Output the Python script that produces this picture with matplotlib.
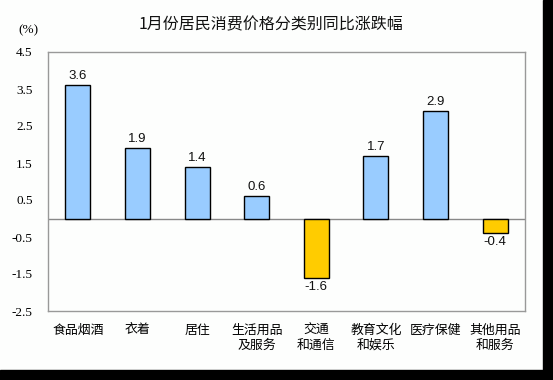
import matplotlib.pyplot as plt
from matplotlib.patches import Rectangle

categories = ["食品烟酒", "衣着", "居住", "生活用品\n及服务", "交通\n和通信",
              "教育文化\n和娱乐", "医疗保健", "其他用品\n和服务"]
values = [3.6, 1.9, 1.4, 0.6, -1.6, 1.7, 2.9, -0.4]
yticks = [-2.5, -1.5, -0.5, 0.5, 1.5, 2.5, 3.5, 4.5]

cjk = ["Noto Sans CJK SC", "DejaVu Sans"]

fig = plt.figure(figsize=(5.53, 3.80), dpi=100, facecolor="#fdfefd")
ax = fig.add_axes([48 / 553, 1 - 311 / 380, 477 / 553, 259 / 380])
ax.set_facecolor("#fdfefd")

x = list(range(len(values)))
colors = ["#99ccff" if v >= 0 else "#ffcc00" for v in values]
ax.bar(x, values, width=0.42, color=colors, edgecolor="black", linewidth=1, zorder=3)

for xi, v in zip(x, values):
    if v >= 0:
        ax.text(xi, v + 0.08, f"{v}", ha="center", va="bottom", fontsize=9.5,
                family="Liberation Sans", color="#111111")
    else:
        ax.text(xi, v - 0.08, f"{v}", ha="center", va="top", fontsize=9.5,
                family="Liberation Sans", color="#111111")

ax.axhline(0, color="#888888", linewidth=1, zorder=2)
ax.set_xlim(-0.5, len(values) - 0.5)
ax.set_ylim(-2.5, 4.5)
ax.set_yticks(yticks)
ax.set_yticklabels([f"{t}" for t in yticks], family="Liberation Serif", fontsize=9.5)
ax.set_xticks(x)
ax.set_xticklabels(categories, family=cjk, fontsize=9.3, linespacing=1.25, va="top")
ax.tick_params(axis="y", length=0, pad=11)
ax.tick_params(axis="x", length=0, pad=9)
for s in ax.spines.values():
    s.set_color("#999999")
    s.set_linewidth(1)

fig.text(271 / 553, 1 - 25 / 380, "1月份居民消费价格分类别同比涨跌幅", ha="center", va="center",
         family=cjk, fontsize=11.5, color="#111111")
fig.text(28 / 553, 1 - 30 / 380, "(%)", ha="center", va="center",
         family="Liberation Serif", fontsize=9.5)

# dark border at right and bottom edge of the original picture
fig.patches.append(Rectangle((543 / 553, 0), 10 / 553, 1, transform=fig.transFigure,
                             color="black", zorder=10))
fig.patches.append(Rectangle((0, 0), 1, 10 / 380, transform=fig.transFigure,
                             color="black", zorder=10))

fig.savefig("out.png", dpi=100, facecolor=fig.get_facecolor())
